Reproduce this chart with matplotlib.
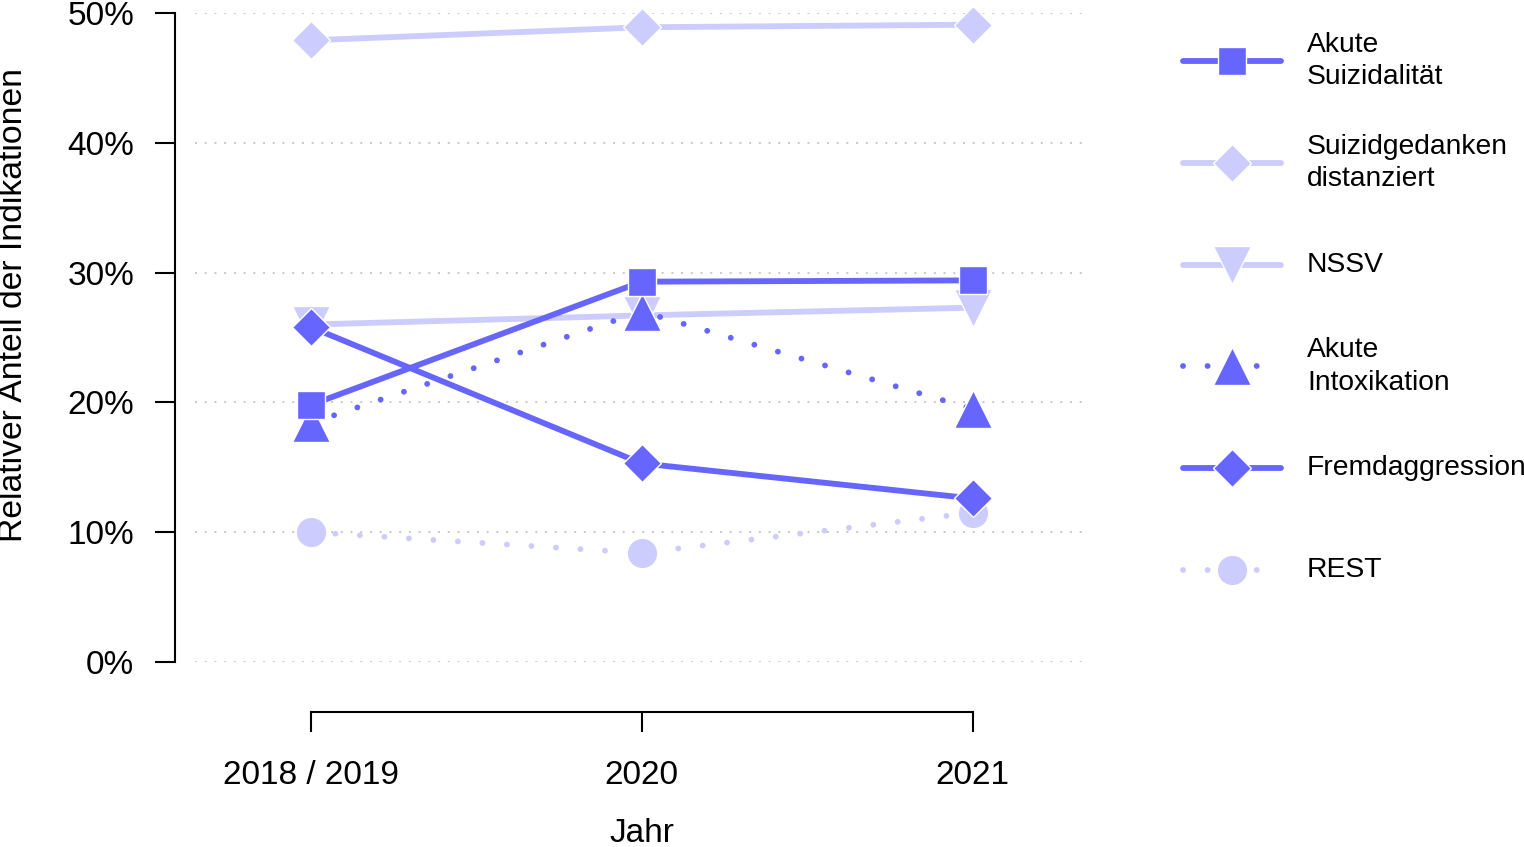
import matplotlib
matplotlib.use("Agg")
import matplotlib.pyplot as plt
from matplotlib.lines import Line2D

plt.rcParams['font.family'] = ['Liberation Sans', 'DejaVu Sans']

years = ["2018 / 2019", "2020", "2021"]
series_names = ["Akute\nSuizidalität", "Suizidgedanken\ndistanziert", "NSSV",
                "Akute\nIntoxikation", "Fremdaggression", "REST"]
akute_suizidalitaet = [19.8, 29.3, 29.4]
suizidgedanken = [47.9, 48.9, 49.1]
nssv = [26.0, 26.7, 27.3]
akute_intoxikation = [18.4, 27.0, 19.5]
fremdaggression = [25.8, 15.3, 12.6]
rest = [10.0, 8.4, 11.5]
yticks = [0, 10, 20, 30, 40, 50]

DARK = "#6666FF"
LIGHT = "#CCCCFF"

values = [akute_suizidalitaet, suizidgedanken, nssv, akute_intoxikation, fremdaggression, rest]
colors = [DARK, LIGHT, LIGHT, DARK, DARK, LIGHT]
markers = ["s", "D", "v", "^", "D", "o"]
msizes = [20, 19, 27, 27, 19, 22]
dotted = (0, (0.01, 4.2))
styles = ["-", "-", "-", dotted, "-", dotted]
zorders = [6, 3, 4, 5, 7, 2]
LW = 4.2

W, H = 1524, 847
fig = plt.figure(figsize=(W / 100, H / 100), dpi=100)
ax = fig.add_axes([195 / W, (H - 662) / H, (1085 - 195) / W, (662 - 13) / H])

x = list(range(len(years)))
for v, c, m, ms, ls, z in zip(values, colors, markers, msizes, styles, zorders):
    ax.plot(x, v, color=c, lw=LW, ls=ls, dash_capstyle='round', solid_capstyle='butt',
            marker=m, ms=ms, mec='white', mew=1.0, zorder=z, clip_on=False)

ax.set_xlim(-0.35, 2.34)
ax.set_ylim(0, 50)
ax.set_yticks(yticks)
ax.set_yticklabels([f"{t}%" for t in yticks])
ax.set_xticks(x)
ax.set_xticklabels(years)

for t in yticks:
    ax.axhline(t, color="#c8c8c8", lw=1.4, ls=(0, (1, 4)), zorder=1)

for s in ["top", "right"]:
    ax.spines[s].set_visible(False)
ax.spines["left"].set_position(("outward", 14.4))
ax.spines["bottom"].set_position(("outward", 36))
ax.spines["left"].set_bounds(0, 50)
ax.spines["bottom"].set_bounds(0, 2)
for s in ["left", "bottom"]:
    ax.spines[s].set_linewidth(1.5)
ax.tick_params(axis="both", direction="out", length=14.4, width=1.5, labelsize=24)
ax.tick_params(axis="y", pad=15)
ax.tick_params(axis="x", pad=20)

fig.text(642 / W, (H - 833) / H, "Jahr", fontsize=24, ha="center", va="center")
fig.text(14 / W, (H - 305) / H, "Relativer Anteil der Indikationen", fontsize=24.3,
         rotation=90, ha="center", va="center")

# legend drawn manually in figure pixel coordinates
for i, (name, c, m, ms, ls) in enumerate(zip(series_names, colors, markers, msizes, styles)):
    yc = H - (61 + i * 101.8)
    ln = Line2D([1183 / W, 1281 / W], [yc / H, yc / H], transform=fig.transFigure,
                color=c, lw=LW, ls=ls, dash_capstyle='round', solid_capstyle='round')
    fig.add_artist(ln)
    mk = Line2D([1232 / W], [yc / H], transform=fig.transFigure, color=c, marker=m,
                ms=ms, mec='white', mew=1.0, ls='none')
    fig.add_artist(mk)
    fig.text(1307 / W, yc / H, name, fontsize=20.3, va="center", ha="left", linespacing=1.32)

fig.savefig("out.png", dpi=100)
